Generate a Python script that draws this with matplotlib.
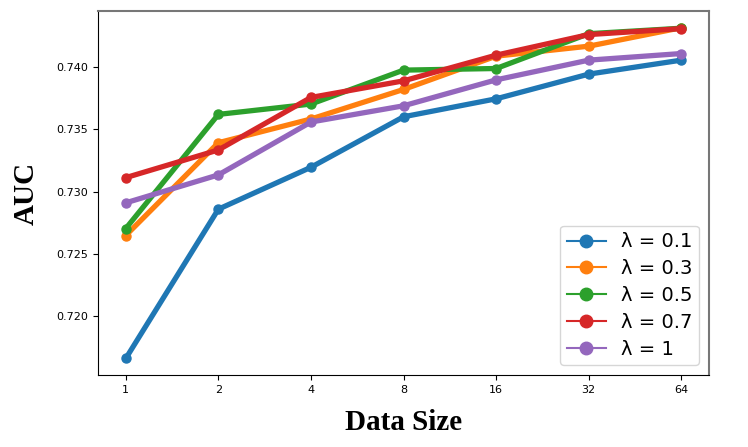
import matplotlib
matplotlib.use("Agg")
import matplotlib.pyplot as plt
from matplotlib.lines import Line2D

data_sizes = ["1", "2", "4", "8", "16", "32", "64"]
labels = ["λ = 0.1", "λ = 0.3", "λ = 0.5", "λ = 0.7", "λ = 1"]
auc_01 = [0.71662, 0.72859, 0.73195, 0.73600, 0.73744, 0.73942, 0.74054]
auc_03 = [0.72648, 0.73392, 0.73582, 0.73819, 0.74086, 0.74166, 0.74314]
auc_05 = [0.72704, 0.73619, 0.73702, 0.73974, 0.73987, 0.74266, 0.74310]
auc_07 = [0.73112, 0.73334, 0.73755, 0.73888, 0.74094, 0.74259, 0.74307]
auc_1 = [0.72910, 0.73134, 0.73558, 0.73688, 0.73896, 0.74054, 0.74107]
colors = ["#1f77b4", "#ff7f0e", "#2ca02c", "#d62728", "#9467bd"]

series = [auc_01, auc_03, auc_05, auc_07, auc_1]

fig = plt.figure(figsize=(7.48, 4.47), dpi=100)
ax = fig.add_axes([0.131, 0.161, 0.817, 0.814])

xs = list(range(len(data_sizes)))
for vals, c in zip(series, colors):
    ax.plot(xs, vals, color=c, linewidth=3.8, marker="o", markersize=6.5)

ax.set_xticks(xs)
ax.set_xticklabels(data_sizes)
ax.tick_params(labelsize=8)
ax.set_yticks([0.720, 0.725, 0.730, 0.735, 0.740])
ax.set_yticklabels(["0.720", "0.725", "0.730", "0.735", "0.740"])

for s in ["top", "right"]:
    ax.spines[s].set_color("#777777")
    ax.spines[s].set_linewidth(1.5)

ax.set_xlabel("Data Size", fontsize=21, fontweight="bold", family="Liberation Serif", labelpad=10)
ax.set_ylabel("AUC", fontsize=21, fontweight="bold", family="Liberation Serif", labelpad=12)

handles = [Line2D([0], [0], color=c, linewidth=1.5, marker="o", markersize=9) for c in colors]
ax.legend(handles, labels, loc="lower right", fontsize=14, borderaxespad=0.5,
          labelspacing=0.4, borderpad=0.35)

fig.savefig("out.png", dpi=100)
